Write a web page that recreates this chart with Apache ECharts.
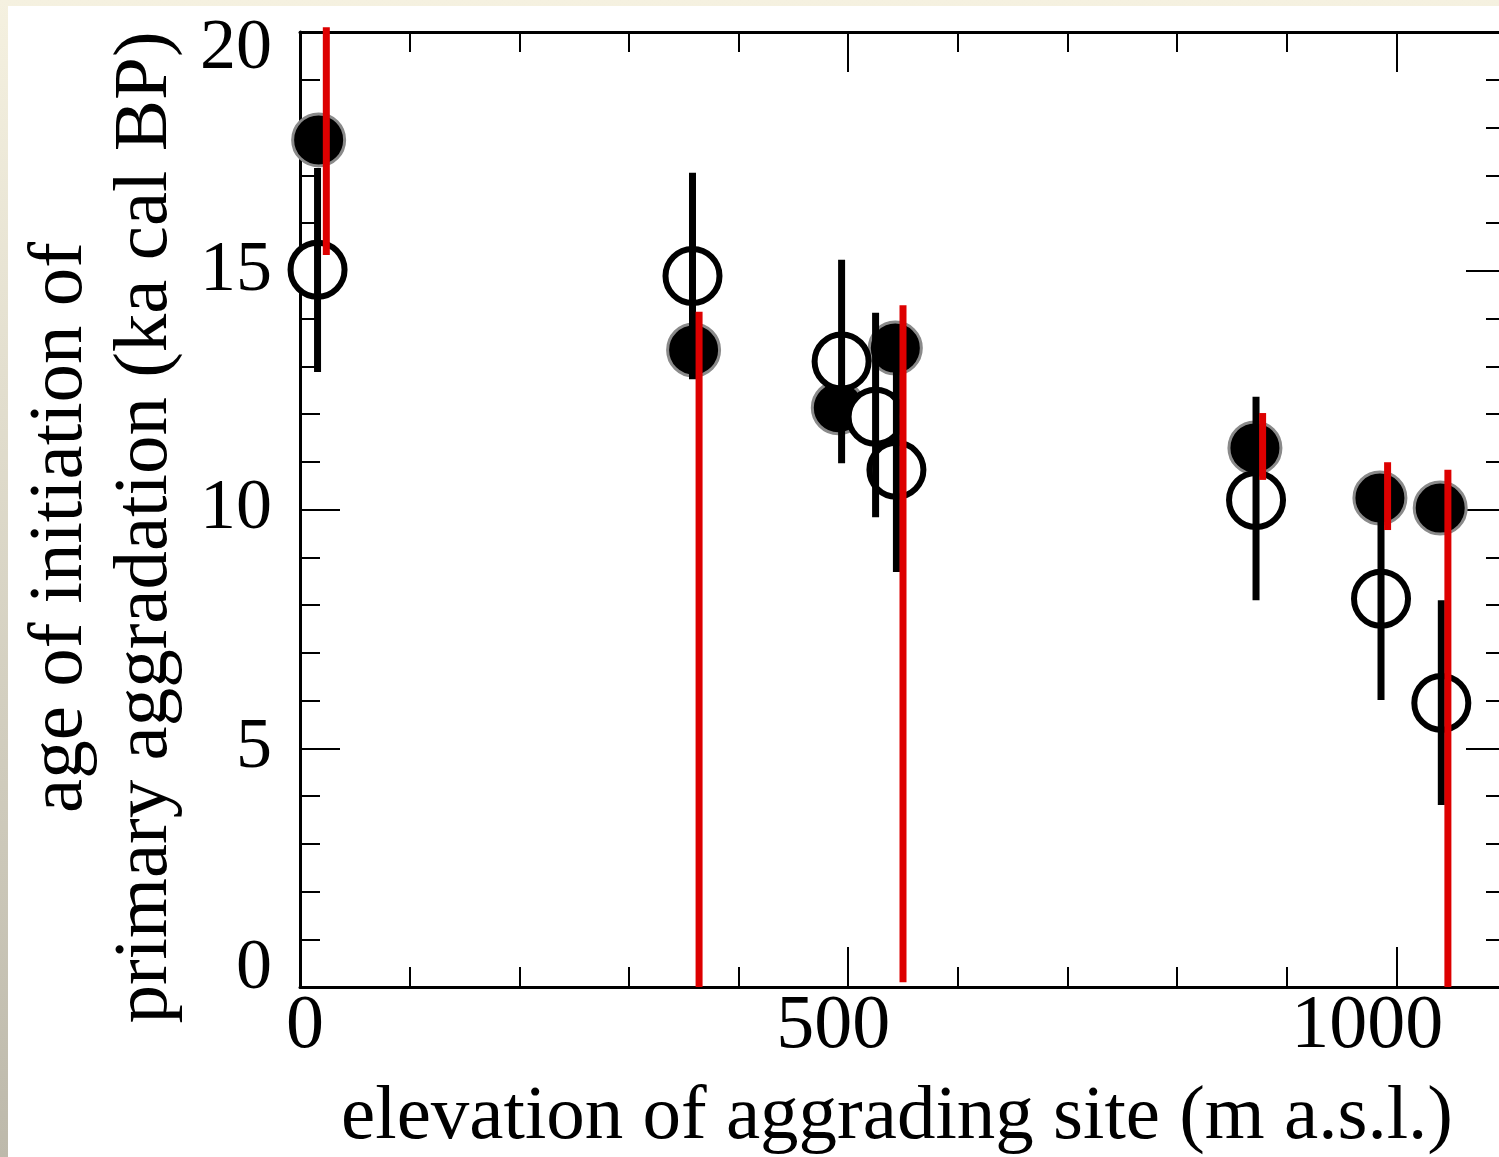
<!DOCTYPE html>
<html>
<head>
<meta charset="utf-8">
<script src="https://cdn.jsdelivr.net/npm/echarts@6/dist/echarts.min.js"></script>
<style>
  html, body { margin: 0; padding: 0; }
  body {
    width: 1499px; height: 1157px; overflow: hidden;
    background: linear-gradient(to bottom, #f5f1e0, #bdb9ab);
  }
  #echart {
    position: absolute; left: 8px; top: 6px;
    width: 1491px; height: 1151px; background: #fff;
  }
</style>
</head>
<body>
<div id="echart"></div>
<script>
// filled circles (ka cal BP)
const filledElev = [17, 359, 543, 491, 871, 985, 1040]
const filledAge = [17.74, 13.34, 13.38, 12.13, 11.29, 10.24, 10.03]
// open circles with black error bars
const openElev = [16, 358, 494, 525, 544, 872, 986, 1041]
const openAge = [15.02, 14.89, 13.1, 11.94, 10.83, 10.2, 8.13, 5.95]
const openLo = [12.88, 12.73, 10.97, 9.84, 8.69, 8.1, 6.01, 3.81]
const openHi = [17.15, 17.05, 15.23, 14.12, 12.97, 12.36, 10.25, 8.1]
// red ranges
const redElev = [24, 364, 550, 878, 992, 1047]
const redLo = [15.33, 0, 0.1, 10.62, 9.57, 0]
const redHi = [20.1, 14.14, 14.28, 12.02, 10.99, 10.83]

const xTicks = [0, 500, 1000]
const yTicks = [0, 5, 10, 15, 20]

const font = 'Liberation Serif'
const myChart = echarts.init(document.getElementById('echart'))

function barItem(color) {
  return function(params, api) {
    const p1 = api.coord([api.value(0), api.value(1)])
    const p2 = api.coord([api.value(0), api.value(2)])
    return {
      type: 'line',
      shape: { x1: p1[0], y1: p1[1], x2: p2[0], y2: p2[1] },
      style: { stroke: color, lineWidth: 7 }
    }
  }
}

function xAxis(pos, interval, len, main) {
  const lab = { fontFamily: font, fontSize: 76, color: '#000' }
  return {
    type: 'value',
    position: pos,
    min: 0,
    max: 1100,
    interval: interval,
    name: main && pos === 'bottom' ? 'elevation of aggrading site (m a.s.l.)' : '',
    nameLocation: 'middle',
    nameGap: 92,
    nameTextStyle: { fontFamily: font, fontSize: 77, color: '#000', padding: [0, 12, 0, 0] },
    axisLine: { show: main, onZero: false, lineStyle: { color: '#000', width: 3 } },
    axisTick: { show: true, inside: true, length: len, lineStyle: { color: '#000', width: 2 } },
    axisLabel: {
      show: main && pos === 'bottom',
      showMaxLabel: false,
      margin: 2,
      fontFamily: font,
      fontSize: 76,
      color: '#000',
      formatter: v => {
        if (v === 0) return '{a|0}'
        if (v === 500) return '{b|500}'
        if (v === 1000) return '{c|1000}'
        return ''
      },
      rich: {
        a: Object.assign({ padding: [0, 0, 0, 10] }, lab),
        b: Object.assign({ padding: [0, 30, 0, 0] }, lab),
        c: Object.assign({ padding: [0, 58, 0, 0] }, lab)
      }
    },
    splitLine: { show: false }
  }
}

function yAxis(pos) {
  return {
    type: 'value',
    position: pos,
    min: 0,
    max: 20,
    interval: 5,
    name: pos === 'left' ? 'age of initiation of\nprimary aggradation (ka cal BP)' : '',
    nameLocation: 'middle',
    nameRotate: 90,
    nameGap: 112,
    nameTextStyle: { fontFamily: font, fontSize: 77, lineHeight: 85, color: '#000', padding: [0, 36, 0, 0] },
    axisLine: { show: true, onZero: false, lineStyle: { color: '#000', width: 3 } },
    axisTick: { show: true, inside: true, length: 40, lineStyle: { color: '#000', width: 2 } },
    minorTick: { show: true, splitNumber: 5, length: 20, lineStyle: { color: '#000', width: 2 } },
    axisLabel: {
      show: pos === 'left',
      margin: 28,
      fontFamily: font,
      fontSize: 72,
      color: '#000',
      formatter: v => {
        if (yTicks.indexOf(v) < 0) return ''
        if (v === 20) return '{top|20}'
        if (v === 0) return '{bot|0}'
        return String(v)
      },
      rich: {
        top: { fontFamily: font, fontSize: 72, color: '#000', padding: [34, 0, 0, 0] },
        bot: { fontFamily: font, fontSize: 72, color: '#000', padding: [0, 0, 36, 0] }
      }
    },
    splitLine: { show: false }
  }
}

myChart.setOption({
  animation: false,
  grid: { left: 292, top: 26, width: 1206, height: 955, outerBoundsMode: 'none' },
  xAxis: [
    xAxis('bottom', 500, 40, true),
    xAxis('bottom', 100, 20, false),
    xAxis('top', 500, 40, true),
    xAxis('top', 100, 20, false)
  ],
  yAxis: [yAxis('left'), yAxis('right')],
  series: [
    {
      type: 'scatter',
      z: 2,
      symbolSize: 52,
      itemStyle: { color: '#000', borderColor: '#8a8a8a', borderWidth: 3, opacity: 1 },
      data: filledElev.map((x, i) => [x, filledAge[i]])
    },
    {
      type: 'scatter',
      z: 3,
      symbolSize: 54,
      itemStyle: { color: '#fff', borderColor: '#000', borderWidth: 6, opacity: 1 },
      data: openElev.map((x, i) => [x, openAge[i]])
    },
    {
      type: 'custom',
      z: 4,
      renderItem: barItem('#000'),
      encode: { x: 0, y: [1, 2] },
      data: openElev.map((x, i) => [x, openLo[i], openHi[i]])
    },
    {
      type: 'custom',
      z: 5,
      renderItem: barItem('#dd0000'),
      encode: { x: 0, y: [1, 2] },
      data: redElev.map((x, i) => [x, redLo[i], redHi[i]])
    }
  ]
})
window.onresize = function() {
  myChart.resize()
}
</script>
</body>
</html>
